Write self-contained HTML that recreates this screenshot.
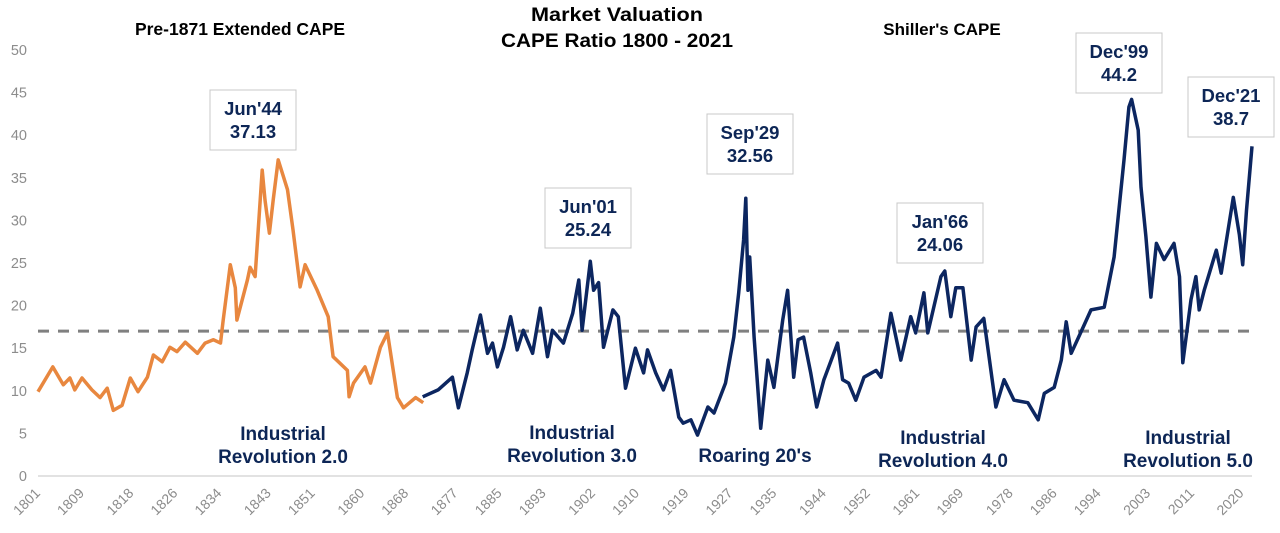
<!DOCTYPE html>
<html><head><meta charset="utf-8"><style>
html,body{margin:0;padding:0;background:#fff;}
body{width:1280px;height:528px;overflow:hidden;}
svg text{font-family:"Liberation Sans",sans-serif;}
</style></head><body>
<svg id="chart" width="1280" height="528" viewBox="0 0 1280 528">
<g id="yaxis"></g>
<g id="xaxis"></g>
<g id="series"></g>
<g id="notes"></g>
<text x="240" y="35" text-anchor="middle" font-size="17.5" font-weight="bold" fill="#000">Pre-1871 Extended CAPE</text>
<text x="617" y="21" text-anchor="middle" font-size="19" font-weight="bold" fill="#000" textLength="172" lengthAdjust="spacingAndGlyphs">Market Valuation</text>
<text x="617" y="47" text-anchor="middle" font-size="19" font-weight="bold" fill="#000" textLength="232" lengthAdjust="spacingAndGlyphs">CAPE Ratio 1800 - 2021</text>
<text x="942" y="35" text-anchor="middle" font-size="17" font-weight="bold" fill="#000">Shiller's CAPE</text>
</svg>
<script>
const yTicks = [0,5,10,15,20,25,30,35,40,45,50];
const xTickLabels = ["1801","1809","1818","1826","1834","1843","1851","1860","1868","1877","1885","1893","1902","1910","1919","1927","1935","1944","1952","1961","1969","1978","1986","1994","2003","2011","2020"];
const meanValue = 17;
const orangeYears = [1801.0,1803.7,1805.6,1806.8,1807.7,1809.0,1810.8,1812.3,1813.6,1814.7,1816.3,1817.8,1819.2,1820.9,1822.0,1823.6,1825.0,1826.3,1827.8,1830.0,1831.4,1832.9,1834.2,1834.7,1836.0,1836.9,1837.2,1839.1,1839.6,1840.5,1841.8,1842.3,1843.1,1843.8,1844.7,1846.4,1847.4,1848.7,1849.6,1851.8,1853.8,1854.7,1857.3,1857.6,1858.4,1860.5,1861.5,1863.3,1864.6,1866.4,1867.5,1869.7,1871.1];
const orangeVals = [9.9,12.8,10.7,11.5,10.1,11.5,10.1,9.2,10.3,7.7,8.3,11.5,9.9,11.6,14.2,13.4,15.1,14.6,15.7,14.4,15.6,16.0,15.6,18.3,24.8,22.1,18.3,23.0,24.5,23.4,35.9,32.4,28.5,32.4,37.1,33.6,28.9,22.2,24.8,21.8,18.7,14.0,12.4,9.3,10.9,12.8,10.9,15.1,16.8,9.2,8.0,9.2,8.6];
const blueYears = [1871.0,1873.8,1876.4,1877.5,1879.1,1880.0,1881.5,1882.8,1883.7,1884.6,1885.7,1887.0,1888.2,1889.3,1891.0,1892.4,1893.7,1894.6,1896.6,1898.3,1899.4,1900.0,1901.5,1902.1,1903.0,1903.9,1905.6,1906.6,1907.9,1909.7,1911.2,1911.9,1913.4,1914.8,1916.1,1917.6,1918.4,1919.8,1921.0,1922.9,1924.0,1926.1,1927.6,1928.5,1929.4,1929.8,1930.2,1930.5,1931.3,1932.5,1933.1,1933.8,1934.9,1936.5,1937.4,1938.5,1939.3,1940.3,1941.6,1942.7,1944.0,1946.5,1947.4,1948.5,1949.8,1951.3,1953.5,1954.4,1956.2,1958.0,1959.8,1960.7,1962.2,1962.9,1965.3,1966.0,1967.1,1968.0,1969.3,1970.8,1971.7,1973.1,1975.3,1976.8,1978.6,1981.1,1983.0,1984.1,1985.9,1987.2,1988.1,1989.0,1991.2,1992.6,1995.0,1996.8,1998.6,1999.5,2000.0,2001.2,2001.7,2002.6,2003.5,2004.5,2005.9,2007.7,2008.7,2009.3,2010.8,2011.7,2012.3,2013.2,2015.4,2016.3,2018.5,2019.6,2020.2,2020.9,2021.9];
const blueVals = [9.3,10.1,11.6,8.0,12.1,14.8,18.9,14.4,15.6,12.8,15.1,18.7,14.8,17.1,14.4,19.7,14.0,17.1,15.6,19.1,23.0,17.1,25.2,21.8,22.7,15.1,19.5,18.7,10.3,15.0,12.1,14.8,12.1,10.1,12.4,6.9,6.2,6.6,4.8,8.1,7.4,10.9,16.3,21.5,27.7,32.6,21.8,25.7,16.3,5.6,9.3,13.6,10.4,18.3,21.8,11.6,16.0,16.3,12.1,8.1,11.3,15.6,11.3,10.9,8.9,11.6,12.4,11.6,19.1,13.6,18.7,16.8,21.5,16.8,23.4,24.06,18.7,22.1,22.1,13.6,17.5,18.5,8.1,11.3,8.9,8.6,6.6,9.7,10.4,13.6,18.1,14.4,17.5,19.5,19.8,25.7,37.1,43.3,44.2,40.6,33.9,28.1,21.0,27.3,25.4,27.3,23.4,13.3,20.7,23.4,19.5,21.8,26.5,23.8,32.7,28.3,24.8,31.2,38.7];
const notes = [
 {label:"Jun'44", val:"37.13", cx:253, top:90},
 {label:"Jun'01", val:"25.24", cx:588, top:188},
 {label:"Sep'29", val:"32.56", cx:750, top:114},
 {label:"Jan'66", val:"24.06", cx:940, top:203},
 {label:"Dec'99", val:"44.2", cx:1119, top:33},
 {label:"Dec'21", val:"38.7", cx:1231, top:77}
];
const eras = [
 {l1:"Industrial", l2:"Revolution 2.0", cx:283, y:440},
 {l1:"Industrial", l2:"Revolution 3.0", cx:572, y:439},
 {l1:"", l2:"Roaring 20's", cx:755, y:439},
 {l1:"Industrial", l2:"Revolution 4.0", cx:943, y:444},
 {l1:"Industrial", l2:"Revolution 5.0", cx:1188, y:444}
];
const NS="http://www.w3.org/2000/svg";
const X0=38, X1=1252, Y0=476, Y50=50;
function xs(yr){return X0+(yr-1801)*(X1-X0)/220.9;}
function ys(v){return Y0-(v/50)*(Y0-Y50);}
function mk(tag,attrs,parent){const e=document.createElementNS(NS,tag);for(const k in attrs)e.setAttribute(k,attrs[k]);parent.appendChild(e);return e;}
const gy=document.getElementById('yaxis'), gx=document.getElementById('xaxis'), gs=document.getElementById('series'), gn=document.getElementById('notes');
yTicks.forEach(t=>{
 const e=mk('text',{x:27,y:ys(t)+5,'text-anchor':'end','font-size':14.5,fill:'#8c8c8c'},gy);
 
 
 e.textContent=t;
});
const base=mk('line',{x1:X0,x2:X1,y1:Y0,y2:Y0,stroke:'#d9d9d9','stroke-width':1.5},gx);


xTickLabels.forEach(l=>{
 const x=xs(+l)+3, y=Y0+18;
 const e=mk('text',{x:x,y:y,'text-anchor':'end','font-size':14,fill:'#8c8c8c',transform:`rotate(-45 ${x} ${y})`},gx);
 
 
 e.textContent=l;
});
const mean=mk('line',{x1:X0,x2:X1,y1:ys(meanValue),y2:ys(meanValue),stroke:'#808080','stroke-width':3,'stroke-dasharray':'11 9'},gs);


function path(years,vals,color,name){
 const d=years.map((y,i)=>(i?'L':'M')+xs(y).toFixed(1)+' '+ys(vals[i]).toFixed(1)).join(' ');
 const p=mk('path',{d:d,fill:'none',stroke:color,'stroke-width':3.5,'stroke-linejoin':'round'},gs);
 
 
}
path(orangeYears,orangeVals,'#e8873f','extended-cape-line');
path(blueYears,blueVals,'#0c2660','shiller-cape-line');
notes.forEach(n=>{
 const r=mk('rect',{x:n.cx-43,y:n.top,width:86,height:60,fill:'#fff',stroke:'#c8c8c8','stroke-width':1},gn);
 
 
 const t1=mk('text',{x:n.cx,y:n.top+25,'text-anchor':'middle','font-size':18.5,'font-weight':'bold',fill:'#0d2656'},gn);
 
 
 t1.textContent=n.label;
 const t2=mk('text',{x:n.cx,y:n.top+48,'text-anchor':'middle','font-size':18.5,'font-weight':'bold',fill:'#0d2656'},gn);
 
 
 t2.textContent=n.val;
});
eras.forEach(e=>{
 if(e.l1){
 const a=mk('text',{x:e.cx,y:e.y,'text-anchor':'middle','font-size':19,'font-weight':'bold',fill:'#0d2656'},gn);
 
 
 a.textContent=e.l1;}
 const b=mk('text',{x:e.cx,y:e.y+23,'text-anchor':'middle','font-size':19,'font-weight':'bold',fill:'#0d2656'},gn);
 
 
 b.textContent=e.l2;
});
</script>
</body></html>
